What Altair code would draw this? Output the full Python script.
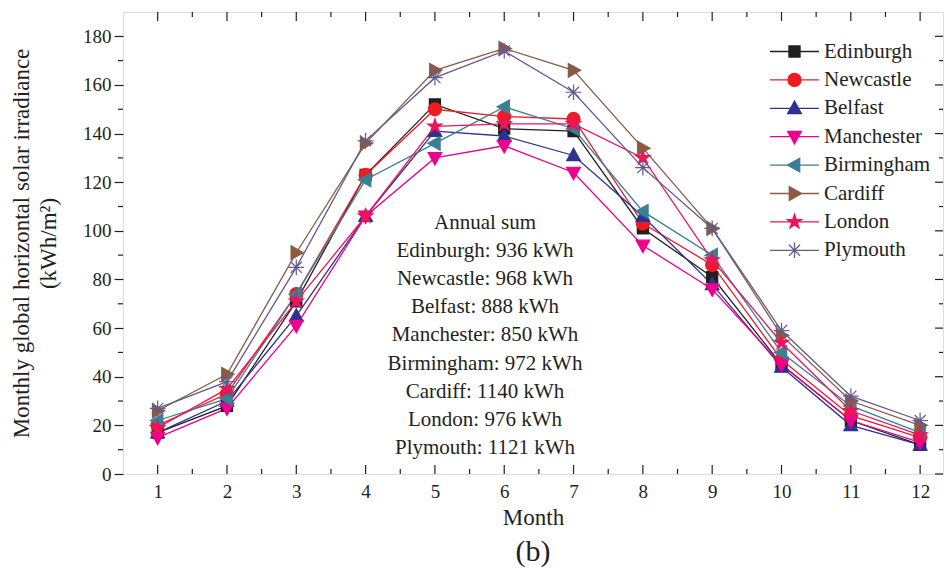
import math
import altair as alt
import pandas as pd

months = [1, 2, 3, 4, 5, 6, 7, 8, 9, 10, 11, 12]
cities = ["Edinburgh", "Newcastle", "Belfast", "Manchester",
          "Birmingham", "Cardiff", "London", "Plymouth"]

edinburgh = [17, 28, 71, 123, 152, 142, 141, 101, 81, 45, 22, 12]
newcastle = [20, 33, 74, 123, 150, 147, 146, 103, 86, 47, 24, 15]
belfast = [17, 30, 65, 106, 141, 139, 131, 106, 78, 44, 20, 12]
manchester = [15, 27, 61, 106, 130, 135, 124, 94, 76, 45, 22, 13]
birmingham = [22, 31, 74, 121, 136, 151, 142, 108, 90, 50, 28, 17]
cardiff = [26, 41, 91, 136, 166, 175, 166, 134, 101, 57, 30, 20]
london = [19, 35, 71, 106, 143, 144, 144, 130, 88, 54, 26, 16]
plymouth = [27, 38, 85, 137, 163, 174, 157, 126, 101, 59, 32, 22]
series = [edinburgh, newcastle, belfast, manchester,
          birmingham, cardiff, london, plymouth]

annual = [936, 968, 888, 850, 972, 1140, 976, 1121]

x_major = [1, 2, 3, 4, 5, 6, 7, 8, 9, 10, 11, 12]
x_minor = [1.5, 2.5, 3.5, 4.5, 5.5, 6.5, 7.5, 8.5, 9.5, 10.5, 11.5]
y_major = [0, 20, 40, 60, 80, 100, 120, 140, 160, 180]
y_minor = [10, 30, 50, 70, 90, 110, 130, 150, 170]

colors = ["#231f20", "#ed1c24", "#2e3192", "#ec008c",
          "#3a7f96", "#8c5a44", "#ed145b", "#5f5b8f"]

FONT = "Liberation Serif"
INK = "#231f20"
W, H = 820, 462


def star_path(r_out=1.15, r_in=0.45):
    pts = []
    for i in range(10):
        a = -math.pi / 2 + i * math.pi / 5
        r = r_out if i % 2 == 0 else r_in
        pts.append(f"{r * math.cos(a):.3f},{r * math.sin(a):.3f}")
    return "M" + "L".join(pts) + "Z"


shape_paths = [
    "M-0.85,-0.85H0.85V0.85H-0.85Z",
    "M1,0A1,1,0,1,1,-1,0A1,1,0,1,1,1,0Z",
    "M0,-1.1L1.05,0.8L-1.05,0.8Z",
    "M0,1.1L1.05,-0.8L-1.05,-0.8Z",
    "M-1.1,0L0.8,-1.05L0.8,1.05Z",
    "M1.1,0L-0.8,-1.05L-0.8,1.05Z",
    star_path(),
    "M-1.2,0L1.2,0M0,-1.2L0,1.2M-0.85,-0.85L0.85,0.85M-0.85,0.85L0.85,-0.85",
]
legend_paths = [p + "M-3.75,0L3.75,0" for p in shape_paths]

rows = []
for c, vals in zip(cities, series):
    for m, v in zip(months, vals):
        rows.append({"City": c, "Month": m, "Value": v})
df = pd.DataFrame(rows)

xscale = alt.Scale(domain=[0.5, 12.33], nice=False, zero=False)
yscale = alt.Scale(domain=[0, 190], nice=False, zero=False)
X = alt.X("Month:Q", scale=xscale,
          axis=alt.Axis(values=x_major, ticks=False, domain=False, grid=False,
                        labelPadding=8, labelFontSize=19, labelFont=FONT,
                        labelColor=INK, title="Month", titleFont=FONT,
                        titleFontSize=23, titleFontWeight="normal",
                        titleColor=INK, titlePadding=5, format="d"))
Y = alt.Y("Value:Q", scale=yscale,
          axis=alt.Axis(values=y_major, tickSize=9, tickColor=INK,
                        tickWidth=1.2, domain=False, grid=False,
                        labelFontSize=19, labelFont=FONT, labelColor=INK,
                        labelPadding=3,
                        title=["Monthly global horizontal solar irradiance",
                               "(kWh/m²)"],
                        titleFont=FONT, titleFontSize=23,
                        titleFontWeight="normal", titleColor=INK,
                        titlePadding=22, titleLineHeight=27))

cscale = alt.Scale(domain=cities, range=colors)

line_layers = []
point_layers = []
for i, (c, p, col) in enumerate(zip(cities, shape_paths, colors)):
    base = alt.Chart(df).transform_filter(alt.datum.City == c)
    if i == 0:
        line_layers.append(base.mark_line(strokeWidth=1.3, color=col).encode(x=X, y=Y))
    else:
        line_layers.append(base.mark_line(strokeWidth=1.3, color=col).encode(
            x="Month:Q", y="Value:Q"))
    point_layers.append(
        base.mark_point(filled=True, size=170, strokeWidth=1.2, opacity=1,
                        shape=p, fill=col, stroke=col)
        .encode(x="Month:Q", y="Value:Q")
    )

leg = alt.Legend(orient="none", legendX=661, legendY=29, title=None,
                 labelFont=FONT, labelFontSize=21, labelColor=INK,
                 symbolSize=170, symbolStrokeWidth=1.3, labelOffset=19,
                 rowPadding=6.4, padding=0, labelLimit=300)
legend_layer = alt.Chart(df).transform_filter(alt.datum.Value < -1).mark_point(
    filled=True, size=170, opacity=1
).encode(
    x="Month:Q", y="Value:Q",
    fill=alt.Fill("City:N", scale=cscale, legend=leg),
    stroke=alt.Stroke("City:N", scale=cscale, legend=leg),
    shape=alt.Shape("City:N", scale=alt.Scale(domain=cities, range=legend_paths),
                    legend=leg),
)

bx_major = pd.DataFrame({"Month": x_major})
bx_minor = pd.DataFrame({"Month": x_minor})
by_major = pd.DataFrame({"Value": y_major})
by_minor = pd.DataFrame({"Value": y_minor})

ticks = [
    alt.Chart(bx_major).mark_rule(color=INK, strokeWidth=1.2).encode(
        x="Month:Q", y=alt.value(H), y2=alt.value(H - 9)),
    alt.Chart(bx_minor).mark_rule(color=INK, strokeWidth=1.2).encode(
        x="Month:Q", y=alt.value(H), y2=alt.value(H - 5)),
    alt.Chart(bx_major).mark_rule(color=INK, strokeWidth=1.2).encode(
        x="Month:Q", y=alt.value(0), y2=alt.value(9)),
    alt.Chart(bx_minor).mark_rule(color=INK, strokeWidth=1.2).encode(
        x="Month:Q", y=alt.value(0), y2=alt.value(5)),
    alt.Chart(by_minor).mark_rule(color=INK, strokeWidth=1.2).encode(
        y="Value:Q", x=alt.value(-5), x2=alt.value(0)),
    alt.Chart(by_major).mark_rule(color=INK, strokeWidth=1.2).encode(
        y="Value:Q", x=alt.value(W - 8), x2=alt.value(W)),
    alt.Chart(by_minor).mark_rule(color=INK, strokeWidth=1.2).encode(
        y="Value:Q", x=alt.value(W - 4), x2=alt.value(W)),
]

text_lines = ["Annual sum"] + [f"{c}: {a} kWh" for c, a in zip(cities, annual)]
annot = alt.Chart(pd.DataFrame({"a": [0]})).mark_text(
    text=text_lines, font=FONT, fontSize=21, color=INK,
    align="center", baseline="top", lineHeight=28.1
).encode(x=alt.value(362), y=alt.value(200))

chart = alt.layer(
    *line_layers, *point_layers, legend_layer, *ticks, annot
).properties(
    width=W, height=H,
    autosize=alt.AutoSizeParams(type="none"),
    padding={"left": 115, "top": 4, "right": 1, "bottom": 95},
    title=alt.TitleParams("(b)", orient="bottom", anchor="middle", font=FONT,
                          fontSize=30, fontWeight="normal", color=INK,
                          offset=8),
).configure_view(
    stroke=INK, strokeWidth=1.3
).configure(background="white")

chart.save("out.html", embed_options={"renderer": "svg", "actions": False})
